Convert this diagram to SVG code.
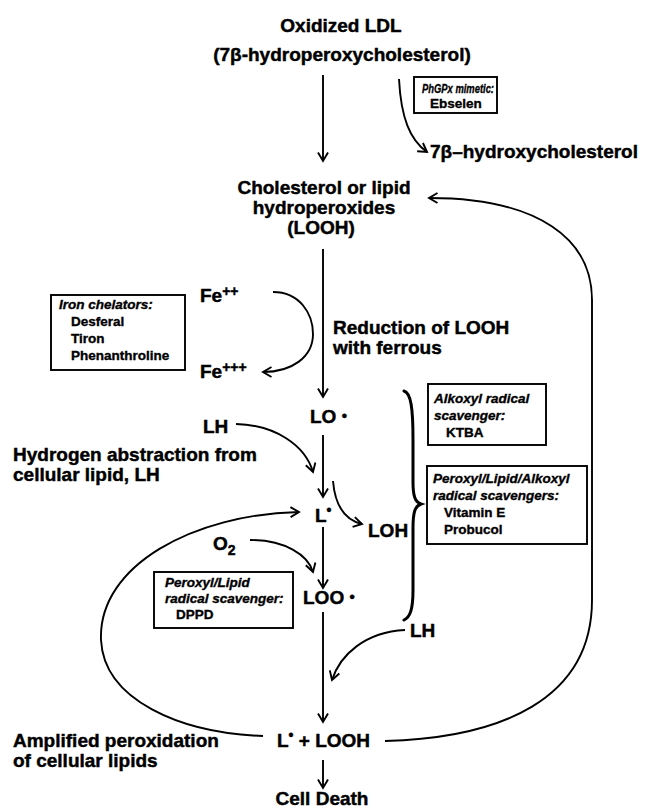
<svg xmlns="http://www.w3.org/2000/svg" width="648" height="808" viewBox="0 0 648 808">
<style>
.t{font-family:"Liberation Sans",Arial,sans-serif;font-weight:bold;font-size:19px;fill:#000;stroke:#000;stroke-width:0.45px}
.b{font-size:13.5px;stroke-width:0.35px}
.i{font-style:italic}
.c{text-anchor:middle}
.ln{fill:none;stroke:#000;stroke-width:1.9}
.box{fill:#fff;stroke:#000;stroke-width:1.9}
.br{fill:none;stroke:#000;stroke-width:3;stroke-linecap:round}
</style>
<defs>
<marker id="ah" markerWidth="12" markerHeight="12" refX="10" refY="6" orient="auto" markerUnits="userSpaceOnUse">
<path d="M1.5,1 L10,6 L1.5,11" fill="none" stroke="#000" stroke-width="1.9"/>
</marker>
</defs>
<rect width="648" height="808" fill="#fff"/>

<g id="connectors">
<path class="ln" d="M323,75 L323,161" marker-end="url(#ah)"/>
<path class="ln" d="M399,79 C401,118 410,140 427,152" marker-end="url(#ah)"/>
<path class="ln" d="M323,249 L323,397" marker-end="url(#ah)"/>
<path class="ln" d="M273,292 C300,292 313,314 313,334 C313,357 292,372 263,372" marker-end="url(#ah)"/>
<path class="ln" d="M323,435 L323,497" marker-end="url(#ah)"/>
<path class="ln" d="M236,424 C275,425 305,445 313,472" marker-end="url(#ah)"/>
<path class="ln" d="M333,481 C335,505 345,520 362,524" marker-end="url(#ah)"/>
<path class="ln" d="M323,527 L323,588" marker-end="url(#ah)"/>
<path class="ln" d="M250,540 C285,540 308,555 313,572" marker-end="url(#ah)"/>
<path class="ln" d="M323,612 L323,722" marker-end="url(#ah)"/>
<path class="ln" d="M405,630 C365,632 340,655 332,680" marker-end="url(#ah)"/>
<path class="ln" d="M323,760 L323,788" marker-end="url(#ah)"/>
<path class="ln" d="M263,736 C180,733 104,700 101,640 C98,565 195,514 299,512" marker-end="url(#ah)"/>
<path class="ln" d="M385,741 C500,738 592,700 592,600 L592,300 C592,240 540,198 429,198" marker-end="url(#ah)"/>
<path class="br" d="M404,391 C411,393 413,408 413,440 L413,482 C413,496 415,502 421,504 C415,506 413,512 413,528 L413,590 C413,610 410,617 404,620"/>
</g>

<g id="oxidized-ldl">
<text class="t c" x="341" y="32">Oxidized LDL</text>
<text class="t c" x="342" y="61">(7β-hydroperoxycholesterol)</text>
</g>

<g id="phgpx-box">
<rect class="box" x="414" y="77" width="83" height="36"/>
<text class="t b i" x="422" y="93" textLength="72" lengthAdjust="spacingAndGlyphs">PhGPx mimetic:</text>
<text class="t b" x="430" y="108">Ebselen</text>
</g>

<g id="hydroxycholesterol">
<text class="t" x="430" y="158">7β–hydroxycholesterol</text>
</g>

<g id="looh">
<text class="t c" x="324" y="194">Cholesterol or lipid</text>
<text class="t c" x="324" y="214">hydroperoxides</text>
<text class="t c" x="321" y="234">(LOOH)</text>
</g>

<g id="iron-box">
<rect class="box" x="51" y="295" width="134" height="75"/>
<text class="t b i" x="59" y="309">Iron chelators:</text>
<text class="t b" x="71" y="326">Desferal</text>
<text class="t b" x="71" y="343">Tiron</text>
<text class="t b" x="71" y="360">Phenanthroline</text>
</g>

<g id="fe2">
<text class="t" x="200" y="302">Fe<tspan font-size="14" dy="-6">++</tspan></text>
</g>
<g id="fe3">
<text class="t" x="200" y="378">Fe<tspan font-size="14" dy="-6">+++</tspan></text>
</g>

<g id="reduction-label">
<text class="t" x="333" y="334" font-size="18.5">Reduction of LOOH</text>
<text class="t" x="333" y="354" font-size="18.5">with ferrous</text>
</g>

<g id="lo-radical">
<text class="t" x="310" y="423">LO <tspan font-size="15" dy="-2">•</tspan></text>
</g>

<g id="lh-top">
<text class="t" x="203" y="433">LH</text>
</g>

<g id="hydrogen-label">
<text class="t" x="13" y="461">Hydrogen abstraction from</text>
<text class="t" x="13" y="481">cellular lipid, LH</text>
</g>

<g id="alkoxyl-box">
<rect class="box" x="428" y="384" width="118" height="61"/>
<text class="t b i" x="434" y="403">Alkoxyl radical</text>
<text class="t b i" x="434" y="420">scavenger:</text>
<text class="t b" x="446" y="437">KTBA</text>
</g>

<g id="l-radical">
<text class="t" x="315" y="522">L<tspan font-size="14" dy="-7">•</tspan></text>
</g>

<g id="loh">
<text class="t" x="368" y="537">LOH</text>
</g>

<g id="peroxyl-lipid-alkoxyl-box">
<rect class="box" x="427" y="466" width="160" height="78"/>
<text class="t b i" x="433" y="483">Peroxyl/Lipid/Alkoxyl</text>
<text class="t b i" x="433" y="500">radical scavengers:</text>
<text class="t b" x="444" y="517">Vitamin E</text>
<text class="t b" x="444" y="534">Probucol</text>
</g>

<g id="o2">
<text class="t" x="213" y="550">O<tspan font-size="14" dy="5">2</tspan></text>
</g>

<g id="dppd-box">
<rect class="box" x="154" y="572" width="139" height="56"/>
<text class="t b i" x="165" y="587">Peroxyl/Lipid</text>
<text class="t b i" x="165" y="603">radical scavenger:</text>
<text class="t b" x="176" y="619">DPPD</text>
</g>

<g id="loo-radical">
<text class="t" x="303" y="604">LOO <tspan font-size="15" dy="-2">•</tspan></text>
</g>

<g id="lh-bottom">
<text class="t" x="410" y="637">LH</text>
</g>

<g id="l-plus-looh">
<text class="t" x="277" y="747">L<tspan font-size="14" dy="-7">•</tspan><tspan dy="7"> + LOOH</tspan></text>
</g>

<g id="amplified-label">
<text class="t" x="13" y="747">Amplified peroxidation</text>
<text class="t" x="13" y="767">of cellular lipids</text>
</g>

<g id="cell-death">
<text class="t c" x="322" y="805">Cell Death</text>
</g>
</svg>
